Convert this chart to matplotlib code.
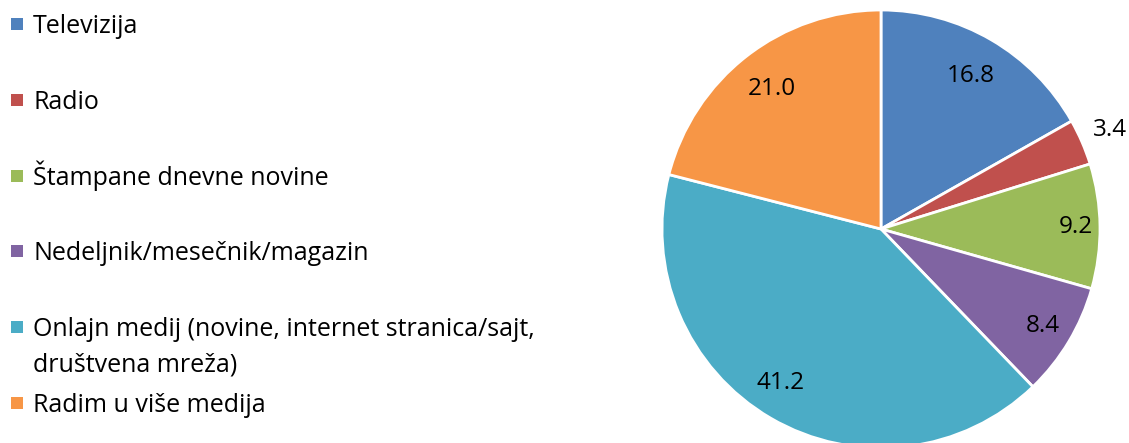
import numpy as np
import matplotlib
matplotlib.use("Agg")
import matplotlib.pyplot as plt
from matplotlib.patches import Rectangle

plt.rcParams['font.family'] = ['Open Sans', 'DejaVu Sans']

# data
labels = ["Televizija", "Radio", "Štampane dnevne novine", "Nedeljnik/mesečnik/magazin",
          "Onlajn medij (novine, internet stranica/sajt,\ndruštvena mreža)", "Radim u više medija"]
values = [16.8, 3.4, 9.2, 8.4, 41.2, 21.0]
colors = ["#4F81BD", "#C0504D", "#9BBB59", "#8064A2", "#4BACC6", "#F79646"]

# label placement tweaks (distance as fraction of radius, angle shift in degrees)
label_dist = [0.81, 1.14, 0.89, 0.86, 0.84, 0.81]
label_shift = [0, 0, 0, 0, -3, 0]

fig = plt.figure(figsize=(11.29, 4.43), dpi=100)
W, H = 1129, 443
cx, cy, r = 881, 229, 219
ax = fig.add_axes([(cx - r) / W, (H - cy - r) / H, 2 * r / W, 2 * r / H])

wedges, _ = ax.pie(values, colors=colors, startangle=90, counterclock=False,
                   radius=1, wedgeprops=dict(edgecolor="white", linewidth=2.0))
ax.set_xlim(-1, 1)
ax.set_ylim(-1, 1)
ax.set_aspect("equal")
ax.axis("off")

total = sum(values)
cum = 0
for v, d, s in zip(values, label_dist, label_shift):
    mid = 90 - 360 * (cum + v / 2) / total + s
    cum += v
    ang = np.deg2rad(mid)
    ax.text(d * np.cos(ang), d * np.sin(ang), f"{v:.1f}", ha="center", va="center",
            fontsize=17.5, color="black")

# legend, drawn by hand to match the Excel layout
for i, (lab, c) in enumerate(zip(labels, colors)):
    yc = 24 + i * 75.8
    fig.patches.append(Rectangle((11 / W, 1 - (yc + 6) / H), 12 / W, 12 / H,
                                 transform=fig.transFigure, facecolor=c, edgecolor="none"))
    for j, line in enumerate(lab.split("\n")):
        fig.text(33 / W, 1 - (yc + 9 + 35 * j) / H, line, ha="left", va="baseline",
                 fontsize=18, color="black")

fig.savefig("out.png", dpi=100)
